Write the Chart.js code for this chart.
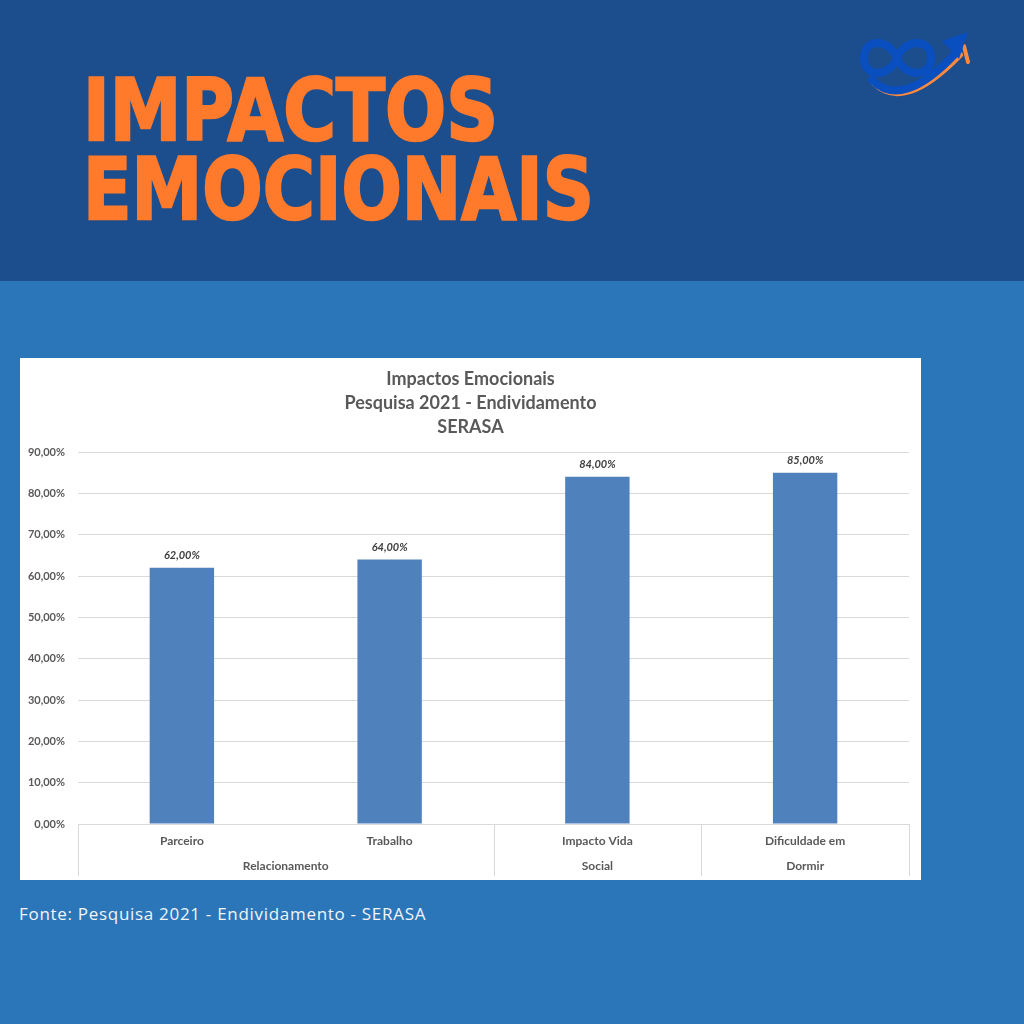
<!DOCTYPE html>
<html><head><meta charset="utf-8">
<script src="https://cdn.jsdelivr.net/npm/chart.js@4"></script>
<style>
html,body{margin:0;padding:0;}
body{width:1024px;height:1024px;position:relative;background:#2b76b9;overflow:hidden;font-family:Lato,sans-serif;}
#hdr{position:absolute;left:0;top:0;width:1024px;height:281px;background:#1c4d8c;}
.tl{position:absolute;left:83px;color:#ff7a2b;font-family:'DejaVu Sans',sans-serif;font-weight:bold;font-size:85px;line-height:1;white-space:nowrap;transform-origin:0 0;margin:0;-webkit-text-stroke:2.5px #ff7a2b;}
#box{position:absolute;left:20px;top:358px;width:901px;height:522px;background:#fff;}
#src{position:absolute;left:19px;top:902px;color:#f2f4f8;font-size:17px;letter-spacing:0.7px;line-height:24px;font-family:'Open Sans',sans-serif;white-space:nowrap;}
#logo{position:absolute;left:0;top:0;}
</style></head>
<body>
<div id="hdr"></div>
<div class="tl" id="t1" data-w="415" style="top:68px">IMPACTOS</div>
<div class="tl" id="t2" data-w="511" style="top:147px">EMOCIONAIS</div>
<svg id="logo" width="1024" height="130" viewBox="0 0 1024 130">
  <path d="M872 80 Q902 110 958 52" fill="none" stroke="#ff8a3d" stroke-width="6" stroke-linecap="round" transform="translate(2,3)"/>
  <path d="M964 46 L968 62" fill="none" stroke="#ff8a3d" stroke-width="4" stroke-linecap="round"/>
  <path d="M897 58 C889 38 864 38 864 58 C864 78 889 78 897 58 C905 38 931 38 931 58 C931 78 905 78 897 58 Z" fill="none" stroke="#0a4fbf" stroke-width="8"/>
  <path d="M872 80 Q902 110 955 54" fill="none" stroke="#0a4fbf" stroke-width="8" stroke-linecap="round"/>
  <path d="M968 32 L942 41 L959 59 Z" fill="#0a4fbf"/>
</svg>
<div id="box"><canvas id="c" width="901" height="522"></canvas></div>
<div id="src">Fonte: Pesquisa 2021 - Endividamento - SERASA</div>
<script>
const categories = ['Parceiro', 'Trabalho', 'Impacto Vida', 'Dificuldade em'];
const groupLabels = ['Relacionamento', 'Social', 'Dormir'];
const groupSpans = [2, 1, 1];
const values = [62, 64, 84, 85];
const titleLines = ['Impactos Emocionais', 'Pesquisa 2021 - Endividamento', 'SERASA'];
const yMin = 0, yMax = 90, yStep = 10;

document.querySelectorAll('.tl').forEach(el => {
  const w = el.getBoundingClientRect().width;
  el.style.transform = 'scaleX(' + (parseFloat(el.dataset.w) / w) + ')';
});

const fmt = v => v.toFixed(2).replace('.', ',') + '%';

const groupAxis = {
  id: 'groupAxis',
  afterDraw(chart) {
    const ctx = chart.ctx, x = chart.scales.x, ca = chart.chartArea;
    const step = (ca.right - ca.left) / categories.length;
    ctx.save();
    ctx.strokeStyle = '#d9d9d9';
    ctx.lineWidth = 1;
    let idx = 0;
    const bounds = [0];
    groupSpans.forEach(s => { idx += s; bounds.push(idx); });
    bounds.forEach(b => {
      const px = Math.round(x.getPixelForValue(b) - step / 2) + 0.5;
      ctx.beginPath(); ctx.moveTo(px, ca.bottom); ctx.lineTo(px, ca.bottom + 52); ctx.stroke();
    });
    ctx.fillStyle = '#595959';
    ctx.font = 'bold 12px Lato';
    ctx.textAlign = 'center'; ctx.textBaseline = 'middle';
    groupLabels.forEach((g, i) => {
      const a = x.getPixelForValue(bounds[i]) - step / 2;
      const b = x.getPixelForValue(bounds[i + 1]) - step / 2;
      ctx.fillText(g, (a + b) / 2, ca.bottom + 42);
    });
    ctx.fillStyle = '#404040';
    ctx.font = 'italic bold 11px Lato';
    chart.getDatasetMeta(0).data.forEach((bar, i) => {
      ctx.fillText(fmt(values[i]), bar.x, bar.y - 12);
    });
    ctx.restore();
  }
};

new Chart(document.getElementById('c'), {
  type: 'bar',
  data: {
    labels: categories,
    datasets: [{
      data: values,
      backgroundColor: '#4f81bd',
      borderWidth: 0,
      categoryPercentage: 1,
      barPercentage: 0.31
    }]
  },
  options: {
    responsive: false,
    devicePixelRatio: 1,
    animation: false,
    layout: { padding: { left: 0, right: 0, top: 0, bottom: 4 } },
    plugins: {
      legend: { display: false },
      tooltip: { enabled: false },
      title: {
        display: true,
        text: titleLines,
        color: '#595959',
        font: { family: 'Lato', size: 18, weight: 'bold', lineHeight: 24 / 18 },
        padding: { top: 9, bottom: 13 }
      }
    },
    scales: {
      x: {
        grid: { display: false },
        border: { display: false },
        ticks: { color: '#595959', font: { family: 'Lato', size: 12, weight: 'bold' }, padding: 2, maxRotation: 0, autoSkip: false },
        afterFit(s) { s.height = 52; }
      },
      y: {
        min: yMin, max: yMax,
        grid: { color: '#d9d9d9', drawTicks: false },
        border: { display: false },
        ticks: { stepSize: yStep, color: '#595959', font: { family: 'Lato', size: 11, weight: 'bold' }, padding: 13, callback: v => fmt(v) },
        afterFit(s) { s.width = 58; }
      },
      yRight: {
        position: 'right',
        min: yMin, max: yMax,
        grid: { display: false },
        border: { display: false },
        ticks: { display: false },
        afterFit(s) { s.width = 12; }
      }
    }
  },
  plugins: [groupAxis]
});
</script>
</body></html>
